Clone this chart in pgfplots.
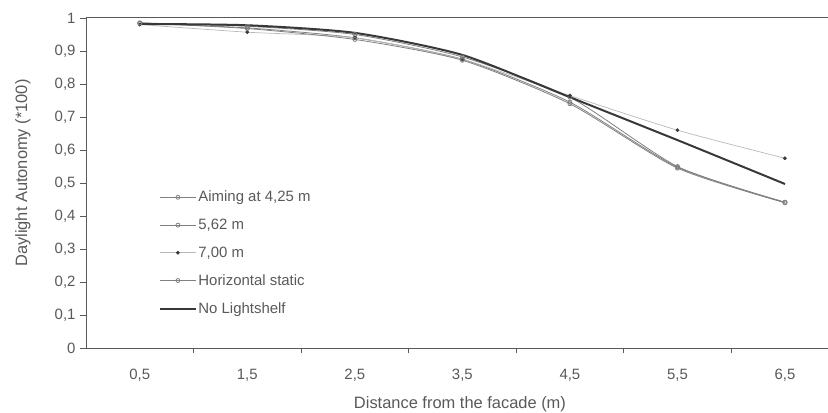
\documentclass[border=0pt]{standalone}
\usepackage{pgfplots}
\pgfplotsset{compat=1.18}
\usepackage{fontspec}
\setmainfont{Liberation Sans}
\definecolor{axgray}{gray}{0.35}
\definecolor{sergray}{gray}{0.5}
\definecolor{lightser}{gray}{0.72}
\definecolor{darkser}{gray}{0.22}
\begin{document}
\begin{tikzpicture}
\begin{axis}[
  scale only axis,
  width=742bp, height=330bp,
  xmin=-0.5, xmax=6.40,
  ymin=0, ymax=1,
  axis x line*=bottom, axis y line*=left,
  axis line style={axgray, line width=0.9pt, -},
  tick align=outside,
  tick style={axgray, line width=0.8pt},
  xtick={0,1,2,3,4,5,6},
  xticklabels={{0,5},{1,5},{2,5},{3,5},{4,5},{5,5},{6,5}},
  major x tick style={draw=none},
  minor xtick={0.5,1.5,2.5,3.5,4.5,5.5},
  minor tick length=5bp,
  ytick={0,0.1,...,1},
  yticklabels={0,{0,1},{0,2},{0,3},{0,4},{0,5},{0,6},{0,7},{0,8},{0,9},1},
  major tick length=6bp,
  ticklabel style={font=\fontsize{15}{17}\selectfont, text=black!65},
  xticklabel style={yshift=-12bp},
  yticklabel style={xshift=-1bp},
  xlabel={Distance from the facade (m)},
  ylabel={Daylight Autonomy (*100)},
  label style={font=\fontsize{16.5}{19}\selectfont, text=black!65},
  x label style={at={(axis description cs:0.504,-0.17)}, anchor=center},
  y label style={at={(axis description cs:-0.085,0.53)}, anchor=center, rotate=0},
  legend style={draw=none, fill=none, at={(axis description cs:0.098,0.488)}, anchor=north west,
    font=\fontsize{15}{17}\selectfont, text=black!65, row sep=11.7bp, inner xsep=0pt,
    nodes={inner xsep=1.5bp}},
  legend cell align=left,
  legend image code/.code={\draw[mark repeat=2,mark phase=2] plot coordinates {(0bp,0bp)(18bp,0bp)(36bp,0bp)};},
  every axis plot/.append style={smooth, tension=0.4},
  clip=false,
]
\draw[axgray, line width=1pt] (rel axis cs:0,1) -- (rel axis cs:1,1);
\addplot[sergray, line width=0.8pt, mark=o, mark size=2bp, mark options={fill=white, solid}] coordinates {
(0,0.985) (1,0.975) (2,0.950) (3,0.882) (4,0.760) (5,0.550) (6,0.441)};
\addlegendentry{Aiming at 4,25 m}
\addplot[sergray, line width=0.8pt, mark=o, mark size=2bp, mark options={fill=white, solid}] coordinates {
(0,0.984) (1,0.970) (2,0.940) (3,0.875) (4,0.745) (5,0.548) (6,0.442)};
\addlegendentry{5,62 m}
\addplot[lightser, line width=0.7pt, mark=*, mark size=1.5bp, mark options={fill=darkser, draw=darkser}] coordinates {
(0,0.980) (1,0.957) (2,0.940) (3,0.875) (4,0.765) (5,0.660) (6,0.575)};
\addlegendentry{7,00 m}
\addplot[sergray, line width=0.8pt, mark=o, mark size=2bp, mark options={fill=white, solid}] coordinates {
(0,0.985) (1,0.968) (2,0.935) (3,0.872) (4,0.740) (5,0.545) (6,0.440)};
\addlegendentry{Horizontal static}
\addplot[darkser, line width=2pt, no marks] coordinates {
(0,0.982) (1,0.978) (2,0.955) (3,0.888) (4,0.760) (5,0.630) (6,0.497)};
\addlegendentry{No Lightshelf}
\end{axis}
\pgfresetboundingbox
\path (current axis.south west) ++(-86bp,-65bp) rectangle ++(828bp,413bp);
\end{tikzpicture}
\end{document}
